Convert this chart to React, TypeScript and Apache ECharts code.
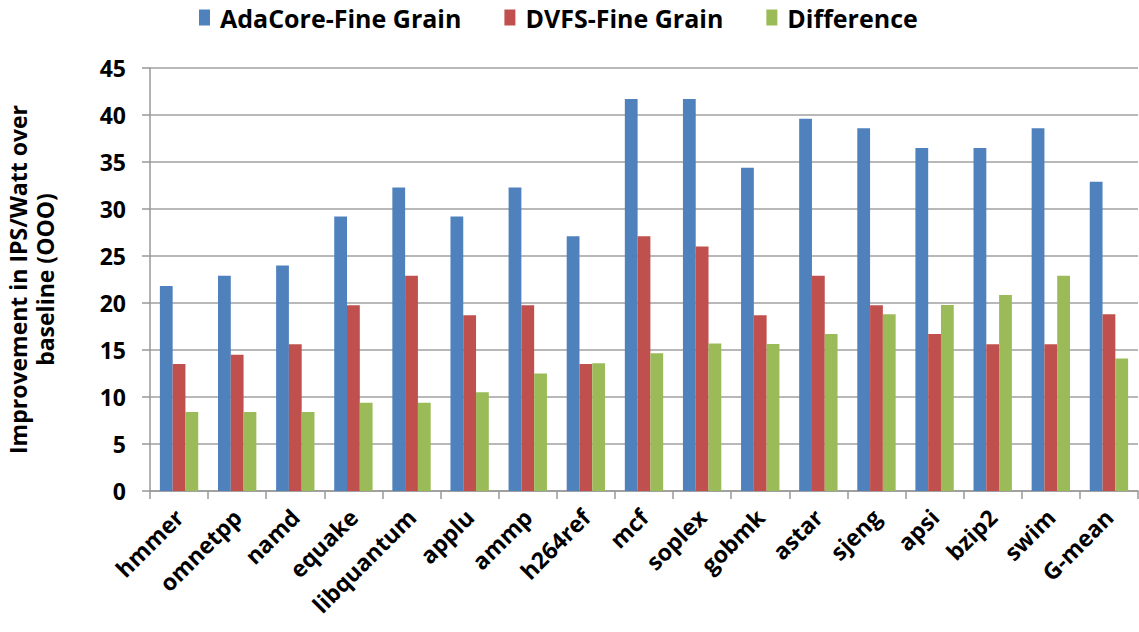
import React, { useEffect, useRef } from "react";
import * as echarts from "echarts";

const categories = ["hmmer", "omnetpp", "namd", "equake", "libquantum", "applu", "ammp", "h264ref", "mcf", "soplex", "gobmk", "astar", "sjeng", "apsi", "bzip2", "swim", "G-mean"];
const adaCore = [21.8, 22.9, 24.0, 29.2, 32.3, 29.2, 32.3, 27.1, 41.7, 41.7, 34.4, 39.6, 38.6, 36.5, 36.5, 38.6, 32.9];
const dvfs = [13.5, 14.5, 15.6, 19.75, 22.9, 18.7, 19.75, 13.5, 27.1, 26.0, 18.7, 22.9, 19.75, 16.7, 15.6, 15.6, 18.8];
const difference = [8.4, 8.4, 8.4, 9.4, 9.4, 10.5, 12.5, 13.6, 14.65, 15.7, 15.65, 16.7, 18.8, 19.8, 20.85, 22.9, 14.1];
const seriesNames = ["AdaCore-Fine Grain", "DVFS-Fine Grain", "Difference"];
const colors = ["#4f81bd", "#c0504d", "#9bbb59"];

export default function App() {
  const ref = useRef<HTMLDivElement>(null);
  useEffect(() => {
    const chart = echarts.init(ref.current!, null, { renderer: "svg" });
    const font = "'Open Sans', 'DejaVu Sans', sans-serif";
    const data = [adaCore, dvfs, difference];
    chart.setOption({
      animation: false,
      textStyle: { fontFamily: font },
      legend: {
        top: 0,
        left: 194,
        itemWidth: 11,
        itemHeight: 16,
        itemGap: 43,
        icon: "rect",
        textStyle: { fontSize: 25, fontWeight: "bold", color: "#000", fontFamily: font, padding: [0, 0, 0, 5] },
        data: seriesNames,
      },
      grid: { left: 150, right: 1, top: 68, bottom: 141, containLabel: false, outerBoundsMode: "none" },
      xAxis: {
        type: "category",
        data: categories,
        axisLine: { lineStyle: { color: "#999", width: 1.5 } },
        axisTick: { show: true, length: 8, lineStyle: { color: "#999", width: 1.5 } },
        axisLabel: { rotate: 45, fontSize: 23, fontWeight: "bold", color: "#000", margin: 22, interval: 0 },
      },
      yAxis: {
        type: "value",
        min: 0,
        max: 45,
        interval: 5,
        name: "Improvement in IPS/Watt over\nbaseline (OOO)",
        nameLocation: "middle",
        nameGap: 92,
        nameTextStyle: { fontSize: 23, fontWeight: "bold", color: "#000", lineHeight: 27 },
        axisLine: { show: true, lineStyle: { color: "#999", width: 1.5 } },
        axisTick: { show: true, length: 8, lineStyle: { color: "#999", width: 1.5 } },
        axisLabel: { fontSize: 23, fontWeight: "bold", color: "#000", margin: 24 },
        splitLine: { lineStyle: { color: "#a0a0a0", width: 1.5 } },
      },
      series: seriesNames.map((name, i) => ({
        name,
        type: "bar",
        data: data[i],
        barGap: "0%",
        barCategoryGap: "34%",
        itemStyle: { color: colors[i] },
      })),
    });
    return () => chart.dispose();
  }, []);
  return <div ref={ref} style={{ position: "absolute", left: 0, top: 0, width: 1139, height: 632 }} />;
}
